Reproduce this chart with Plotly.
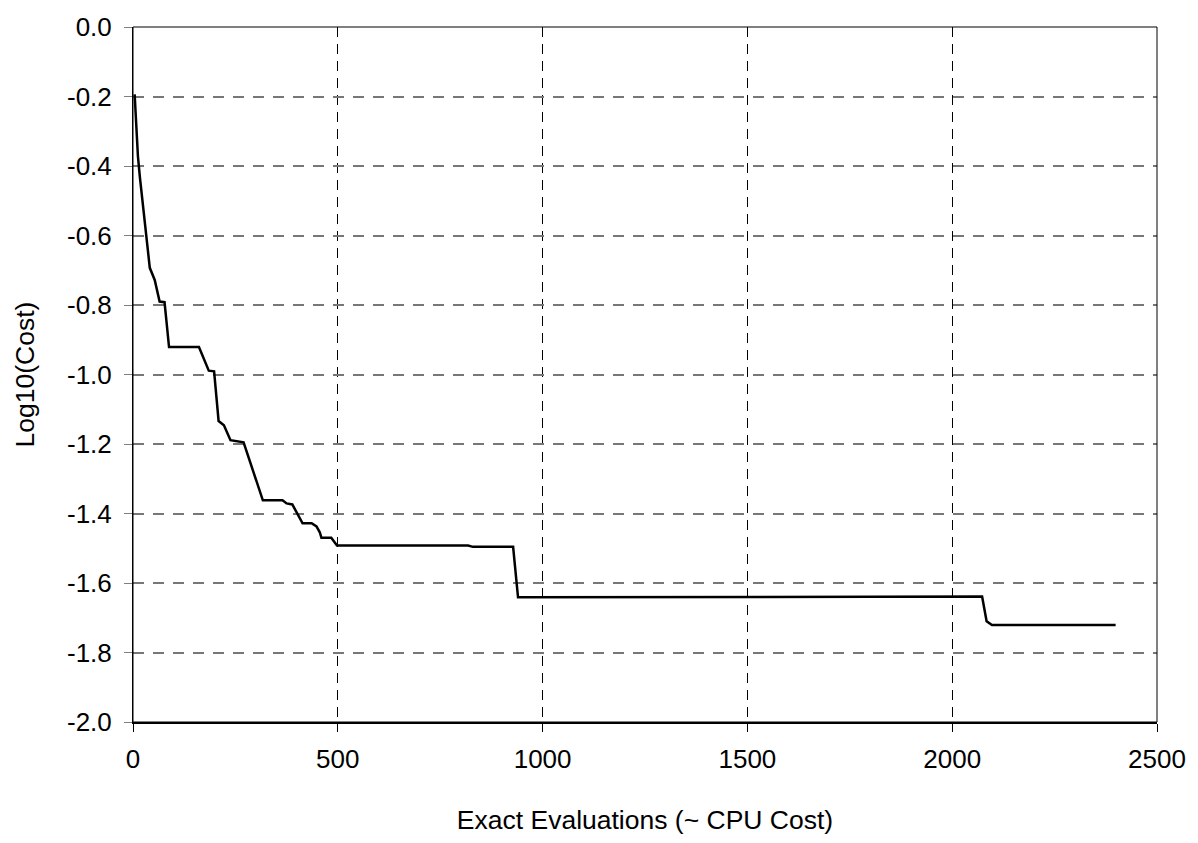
import plotly.graph_objects as go

evals = [4, 12, 17, 41, 53, 65, 77, 88, 161, 173, 185, 198, 209, 222, 238, 270,
         317, 365, 375, 389, 414, 436, 448, 456, 460, 484, 498, 818, 830, 928,
         940, 2073, 2084, 2097, 2399]
log_cost = [-0.194, -0.372, -0.434, -0.693, -0.728, -0.790, -0.792, -0.921, -0.921,
            -0.953, -0.989, -0.991, -1.134, -1.146, -1.189, -1.195,
            -1.362, -1.362, -1.371, -1.374, -1.428, -1.428, -1.437, -1.454, -1.470,
            -1.470, -1.492, -1.492, -1.496, -1.496,
            -1.641, -1.639, -1.710, -1.721, -1.721]

x_ticks = [0, 500, 1000, 1500, 2000, 2500]
y_ticks = [0.0, -0.2, -0.4, -0.6, -0.8, -1.0, -1.2, -1.4, -1.6, -1.8, -2.0]
y_labels = [f"{v:.1f}" for v in y_ticks]

FONT = "Liberation Sans, Arial, sans-serif"

fig = go.Figure()
fig.add_trace(go.Scatter(x=evals, y=log_cost, mode="lines",
                         line=dict(color="black", width=2.5), showlegend=False))

fig.update_layout(
    width=1198, height=843,
    margin=dict(l=133, r=41, t=19, b=121),
    paper_bgcolor="white", plot_bgcolor="white",
    font=dict(family=FONT, size=26, color="black"),
    xaxis=dict(range=[0, 2500], tickvals=x_ticks, showgrid=True,
               gridcolor="black", gridwidth=1, griddash="10px,7px",
               showline=True, linecolor="black", linewidth=2,
               ticks="outside", ticklen=8, tickcolor="black", tickwidth=1,
               ticklabelstandoff=5, zeroline=False,
               title=dict(text="Exact Evaluations (~ CPU Cost)", standoff=37,
                          font=dict(size=26.5))),
    yaxis=dict(range=[-2.0, 0.0], tickvals=y_ticks, ticktext=y_labels, showgrid=True,
               gridcolor="#777777", gridwidth=1.5, griddash="11px,9px",
               showline=True, linecolor="black", linewidth=1,
               ticks="outside", ticklen=8, tickcolor="#808080", tickwidth=1,
               ticklabelstandoff=7, zeroline=False,
               title=dict(text="Log10(Cost)", standoff=24, font=dict(size=26.5))),
    shapes=[dict(type="rect", xref="paper", yref="paper", x0=0, x1=1, y0=0, y1=1,
                 line=dict(color="black", width=1), fillcolor="rgba(0,0,0,0)",
                 layer="above")],
)

fig.write_html("out.html")
